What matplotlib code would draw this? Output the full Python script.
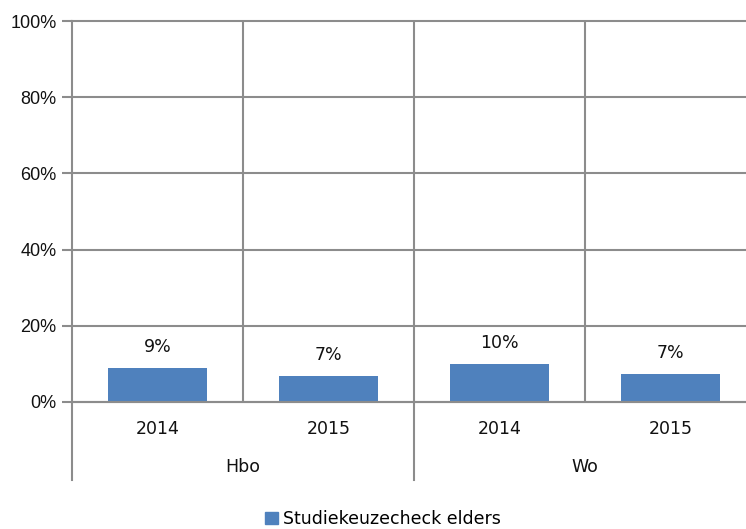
import matplotlib.pyplot as plt
from matplotlib.patches import Patch

groups = ['Hbo', 'Wo']
years = ['2014', '2015', '2014', '2015']
values = [8.9, 6.8, 10.0, 7.4]
labels = ['9%', '7%', '10%', '7%']
series_name = 'Studiekeuzecheck elders'

bar_color = '#4F81BD'
grid_color = '#8C8C8C'
W, H = 746, 529

fig = plt.figure(figsize=(W / 100, H / 100), dpi=100)
ax = fig.add_axes([72 / W, (H - 402) / H, 684 / W, 381 / H])

x = list(range(len(values)))
ax.bar(x, values, width=0.575, color=bar_color, zorder=3)
for xi, v, lab in zip(x, values, labels):
    ax.text(xi, v + 3.2, lab, ha='center', va='bottom', fontsize=12.5,
            family='DejaVu Sans', color='#111111')

ax.set_xlim(-0.5, len(values) - 0.5)
ax.set_ylim(0, 100)
ax.set_yticks(range(0, 101, 20))
ax.set_yticklabels([f'{t}%' for t in range(0, 101, 20)], family='Liberation Sans',
                   fontsize=13, color='#111111')
ax.set_xticks([])
ax.yaxis.grid(True, color=grid_color, linewidth=1.5, zorder=1)
for gl in ax.yaxis.get_gridlines():
    gl.set_clip_on(False)
ax.tick_params(axis='y', length=7, width=1.5, color=grid_color, pad=4)

for s in ['top', 'right']:
    ax.spines[s].set_visible(False)
for s in ['left', 'bottom']:
    ax.spines[s].set_color(grid_color)
    ax.spines[s].set_linewidth(1.5)
    ax.spines[s].set_zorder(4)

trans = ax.get_xaxis_transform()
for xv in [0.5, 1.5, 2.5]:
    ax.axvline(xv, color=grid_color, linewidth=1.5, zorder=1)
# group separators running down through the labels
for xv in [-0.5, 1.5]:
    ax.plot([xv, xv], [0, -0.205], transform=trans, color=grid_color,
            linewidth=1.5, clip_on=False)

for xi, yr in zip(x, years):
    ax.text(xi, -0.071, yr, transform=trans, ha='center', va='center',
            fontsize=12.5, family='DejaVu Sans', color='#111111')
for gi, g in enumerate(groups):
    ax.text(gi * 2 + 0.5, -0.171, g, transform=trans, ha='center', va='center',
            fontsize=12.5, family='DejaVu Sans', color='#111111')

fig.legend(handles=[Patch(color=bar_color, label=series_name)],
           loc='center', bbox_to_anchor=(383 / W, (H - 519) / H), frameon=False,
           prop={'family': 'DejaVu Sans', 'size': 12.5}, handlelength=0.75,
           handleheight=0.75, handletextpad=0.3)

fig.savefig('out.png', dpi=100)
